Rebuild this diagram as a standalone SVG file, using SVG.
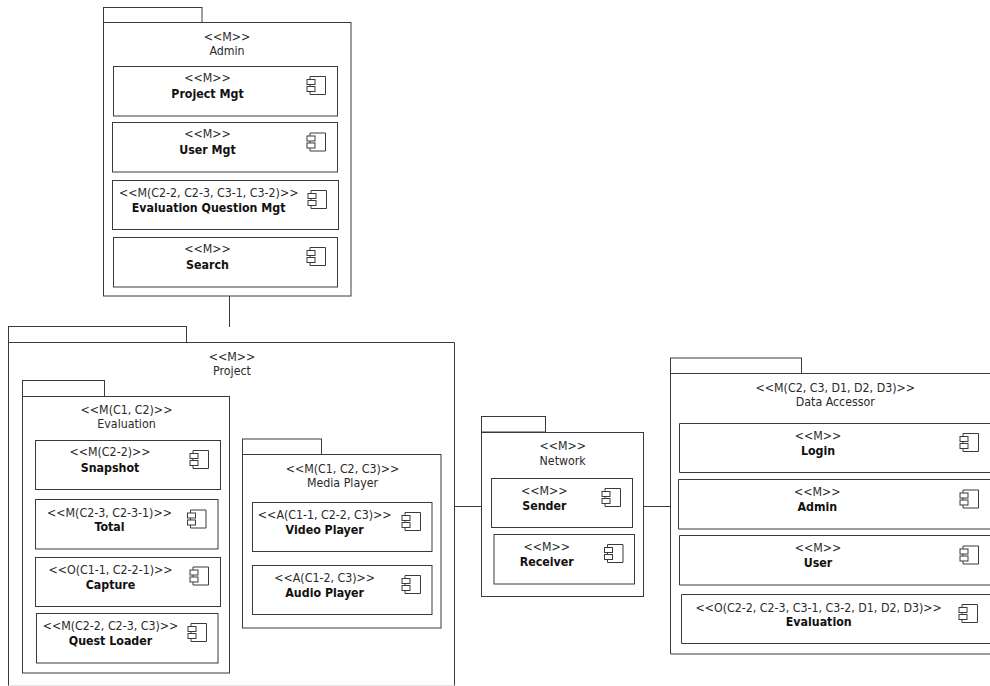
<svg xmlns="http://www.w3.org/2000/svg" width="990" height="686" viewBox="0 0 990 686">
<style>
rect,path,line{fill:none;stroke:#3a3a3a;stroke-width:1}
.b{fill:#fff}
text{font-family:"DejaVu Sans Condensed","DejaVu Sans",sans-serif;font-size:12.3px;fill:#2a2a2a;text-anchor:middle}
.n{font-weight:bold;fill:#111}
</style>
<defs>
<g id="ic"><path d="M3.5 0.5H19V18.5H3.5Z"/><rect class="b" x="0.5" y="3.5" width="8" height="5"/><rect class="b" x="0.5" y="10.5" width="8" height="5"/></g>
</defs>
<rect width="990" height="686" fill="#fff" style="stroke:none"/>
<g id="connectors">
<line x1="229.5" y1="296" x2="229.5" y2="327"/>
<line x1="454.5" y1="506.5" x2="481.5" y2="506.5"/>
<line x1="643.5" y1="506.5" x2="670.5" y2="506.5"/>
</g>
<g id="admin-pkg">
<rect x="103.5" y="7.5" width="98.5" height="15"/><rect x="103.5" y="22.5" width="247.5" height="273.5"/>
<text x="227" y="40.5">&lt;&lt;M&gt;&gt;</text><text x="227" y="55">Admin</text>
</g>
<g id="project-mgt"><rect x="113.5" y="66.5" width="224" height="49.5"/><use href="#ic" x="306.5" y="76"/><text x="207.5" y="82">&lt;&lt;M&gt;&gt;</text><text class="n" x="207.5" y="97.5">Project Mgt</text></g>
<g id="user-mgt"><rect x="112.5" y="122.5" width="225" height="49.5"/><use href="#ic" x="306.5" y="132.5"/><text x="207.5" y="138">&lt;&lt;M&gt;&gt;</text><text class="n" x="207.5" y="153.5">User Mgt</text></g>
<g id="eval-q-mgt"><rect x="112.5" y="180.5" width="226" height="49"/><use href="#ic" x="307.5" y="190"/><text x="208.7" y="196.5">&lt;&lt;M(C2-2, C2-3, C3-1, C3-2)&gt;&gt;</text><text class="n" x="208.7" y="211.5">Evaluation Question Mgt</text></g>
<g id="search"><rect x="113.5" y="237.5" width="224" height="49.5"/><use href="#ic" x="306.5" y="247"/><text x="207.5" y="253">&lt;&lt;M&gt;&gt;</text><text class="n" x="207.5" y="268.5">Search</text></g>

<g id="project-pkg">
<rect x="8.5" y="326.5" width="178" height="16"/><path d="M8.5 687V342.5H454.5V687"/>
<line x1="8.5" y1="685.5" x2="454.5" y2="685.5" style="stroke:#e6e6e6"/>
<text x="232" y="361">&lt;&lt;M&gt;&gt;</text><text x="232" y="375">Project</text>
</g>
<g id="evaluation-pkg">
<rect x="22.5" y="380.5" width="82" height="16"/><rect x="22.5" y="396.5" width="207" height="276.5"/>
<text x="126.5" y="413.5">&lt;&lt;M(C1, C2)&gt;&gt;</text><text x="126.5" y="428">Evaluation</text>
</g>
<g id="snapshot"><rect x="35.5" y="440.5" width="185" height="49"/><use href="#ic" x="189.5" y="450"/><text x="110" y="455.5">&lt;&lt;M(C2-2)&gt;&gt;</text><text class="n" x="110" y="471.5">Snapshot</text></g>
<g id="total"><rect x="35.5" y="499.5" width="182.5" height="49.5"/><use href="#ic" x="187" y="509.5"/><text x="109.5" y="516.5">&lt;&lt;M(C2-3, C2-3-1)&gt;&gt;</text><text class="n" x="109.5" y="530.5">Total</text></g>
<g id="capture"><rect x="35.5" y="557.5" width="185" height="49"/><use href="#ic" x="189.5" y="566.5"/><text x="110.5" y="574">&lt;&lt;O(C1-1, C2-2-1)&gt;&gt;</text><text class="n" x="110.5" y="588.5">Capture</text></g>
<g id="quest-loader"><rect x="36.5" y="613.5" width="181.5" height="49.5"/><use href="#ic" x="187.5" y="623"/><text x="110.5" y="630">&lt;&lt;M(C2-2, C2-3, C3)&gt;&gt;</text><text class="n" x="110.5" y="645">Quest Loader</text></g>

<g id="media-pkg">
<rect x="242.5" y="439" width="79" height="15.5"/><rect x="242.5" y="454.5" width="198.5" height="173.5"/>
<text x="342.5" y="472.5">&lt;&lt;M(C1, C2, C3)&gt;&gt;</text><text x="342.5" y="486.5">Media Player</text>
</g>
<g id="video-player"><rect x="252.5" y="502.5" width="179.5" height="49"/><use href="#ic" x="401.5" y="512"/><text x="324.7" y="519">&lt;&lt;A(C1-1, C2-2, C3)&gt;&gt;</text><text class="n" x="324.7" y="534">Video Player</text></g>
<g id="audio-player"><rect x="252.5" y="565.5" width="179.5" height="49"/><use href="#ic" x="401.5" y="575"/><text x="324.7" y="582">&lt;&lt;A(C1-2, C3)&gt;&gt;</text><text class="n" x="324.7" y="597">Audio Player</text></g>

<g id="network-pkg">
<rect x="481.5" y="416.5" width="64" height="15.5"/><rect x="481.5" y="432.5" width="162" height="164"/>
<text x="562.7" y="449.5">&lt;&lt;M&gt;&gt;</text><text x="562.7" y="464.5">Network</text>
</g>
<g id="sender"><rect x="491.5" y="478.5" width="141" height="49"/><use href="#ic" x="601.5" y="488"/><text x="544.3" y="494.5">&lt;&lt;M&gt;&gt;</text><text class="n" x="544.3" y="510">Sender</text></g>
<g id="receiver"><rect x="494" y="534.5" width="140.5" height="49.5"/><use href="#ic" x="604" y="544"/><text x="546.7" y="551">&lt;&lt;M&gt;&gt;</text><text class="n" x="546.7" y="566">Receiver</text></g>

<g id="data-accessor-pkg">
<rect x="670.5" y="358" width="131" height="15.5"/><path d="M995 373.5H670.5V654H995"/>
<text x="835.3" y="391.5">&lt;&lt;M(C2, C3, D1, D2, D3)&gt;&gt;</text><text x="835.3" y="406">Data Accessor</text>
</g>
<g id="login"><path d="M995 423.5H679.5V472.5H995"/><use href="#ic" x="959.5" y="433"/><text x="818" y="439.5">&lt;&lt;M&gt;&gt;</text><text class="n" x="818" y="454.5">Login</text></g>
<g id="admin"><path d="M995 479.5H678.5V529H995"/><use href="#ic" x="959.5" y="489.5"/><text x="817.3" y="495.5">&lt;&lt;M&gt;&gt;</text><text class="n" x="817.3" y="510.5">Admin</text></g>
<g id="user"><path d="M995 535.5H679.5V585H995"/><use href="#ic" x="959.5" y="545.5"/><text x="818" y="552">&lt;&lt;M&gt;&gt;</text><text class="n" x="818" y="566.7">User</text></g>
<g id="evaluation"><path d="M995 594.5H681.5V643.5H995"/><use href="#ic" x="958.5" y="604"/><text x="818.7" y="611.5">&lt;&lt;O(C2-2, C2-3, C3-1, C3-2, D1, D2, D3)&gt;&gt;</text><text class="n" x="818.7" y="625.7">Evaluation</text></g>
</svg>
